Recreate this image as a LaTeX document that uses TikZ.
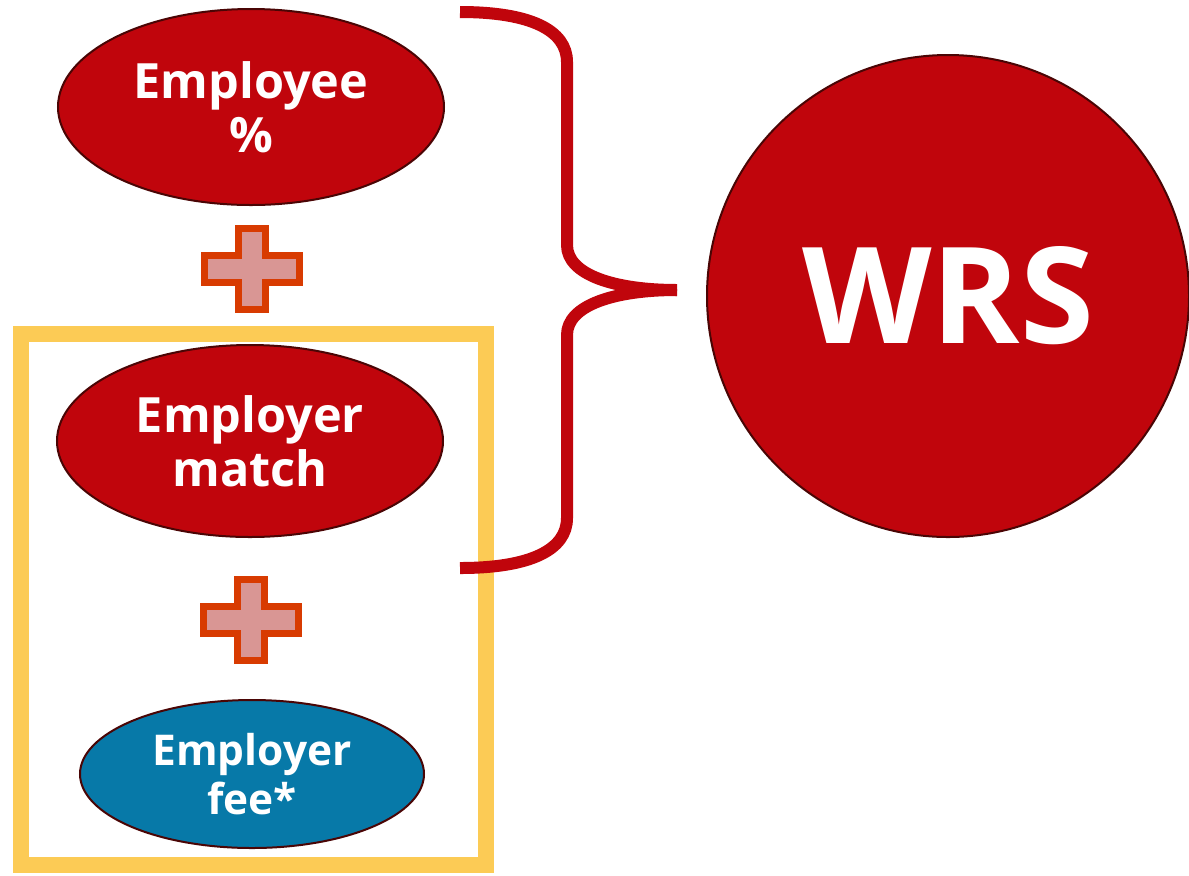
\documentclass[tikz,border=0pt]{standalone}
\usepackage{fontspec}
\setmainfont{Open Sans}
\usetikzlibrary{shapes.geometric}
\definecolor{wred}{HTML}{C0050C}
\definecolor{wedge}{HTML}{4A0505}
\definecolor{wblue}{HTML}{0779A8}
\definecolor{wgold}{HTML}{FCCB55}
\definecolor{plusfill}{HTML}{D99694}
\definecolor{plusedge}{HTML}{D83B01}
\tikzset{
  x=0.5pt, y=-0.5pt,
  bubble/.style={ellipse, draw=wedge, line width=1pt, fill=wred, text=white,
    inner sep=0pt, align=center, font=\bfseries\fontsize{24.3}{27}\selectfont},
  feebubble/.style={bubble, fill=wblue, font=\bfseries\fontsize{21.2}{24.5}\selectfont},
  plussign/.pic={
    \draw[line width=3.5pt, draw=plusedge, fill=plusfill, line join=miter]
      (-13.5,-40.5) -- (13.5,-40.5) -- (13.5,-13.5) -- (47.5,-13.5) -- (47.5,13.5)
      -- (13.5,13.5) -- (13.5,40.5) -- (-13.5,40.5) -- (-13.5,13.5) -- (-47.5,13.5)
      -- (-47.5,-13.5) -- (-13.5,-13.5) -- cycle;
  },
  bracestroke/.style={draw=wred, line width=6pt, line cap=butt},
}
\begin{document}
\begin{tikzpicture}
\useasboundingbox (0,0) rectangle (1189,875);

% frame around the employer parts
\draw[draw=wgold, line width=8pt] (21,334) rectangle (486,865);

% contribution ellipses
\node[bubble, minimum width=386pt/2, minimum height=196pt/2] (employee) at (251,107) {Employee\\\%};
\node[bubble, minimum width=386pt/2, minimum height=192pt/2] (match) at (250,441) {Employer\\match};
\node[feebubble, minimum width=344pt/2, minimum height=148pt/2] (fee) at (252,774) {Employer\\fee*};

% plus signs
\pic at (252,269) {plussign};
\pic at (251,620) {plussign};

% brace joining the two contributions
\coordinate (btop) at (460,12);
\coordinate (bbot) at (460,568);
\coordinate (tip) at (677,290);
\draw[bracestroke] (btop) .. controls (530,12) and (567,30) .. (567,62)
  -- (567,245) .. controls (567,275) and (615,290) .. (tip);
\draw[bracestroke] (tip) .. controls (615,290) and (567,305) .. (567,335)
  -- (567,518) .. controls (567,550) and (530,568) .. (bbot);

% total
\node[circle, draw=wedge, line width=1pt, fill=wred, text=white, inner sep=0pt,
  minimum size=482pt/2, font=\bfseries\fontsize{67}{70}\selectfont] (wrs) at (948,296) {WRS};
\end{tikzpicture}
\end{document}
